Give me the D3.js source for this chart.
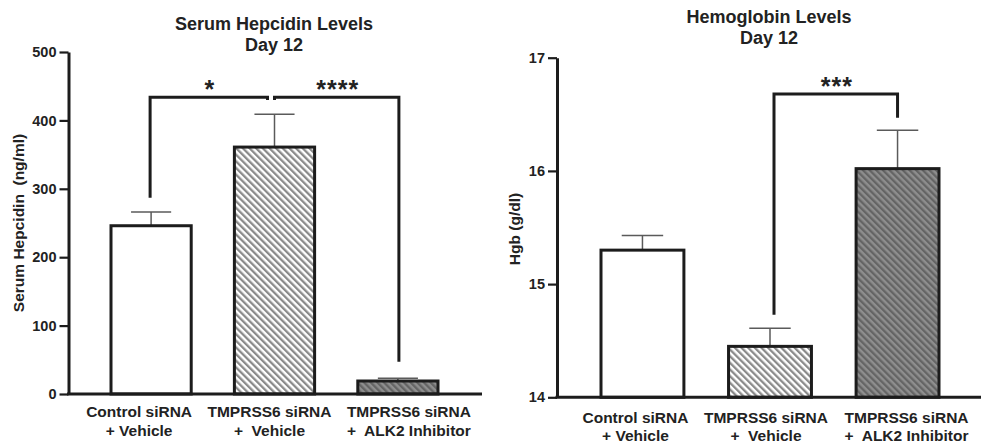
<!DOCTYPE html>
<html>
<head>
<meta charset="utf-8">
<script src="https://cdn.jsdelivr.net/npm/d3@7"></script>
<style>
  html, body { margin: 0; padding: 0; background: #fff; }
  svg { display: block; font-family: "Liberation Sans", Arial, Helvetica, sans-serif; font-weight: bold; }
</style>
</head>
<body>
<svg id="fig" width="981" height="443"></svg>
<script>
// Treatment groups (two-line labels)
const groupLine1 = ["Control siRNA", "TMPRSS6 siRNA", "TMPRSS6 siRNA"];
const groupLine2 = ["+ Vehicle", "+  Vehicle", "+  ALK2 Inhibitor"];

// Serum hepcidin (ng/ml): mean and SEM
const hepcidinMean = [246, 361, 19];
const hepcidinSem = [20, 48, 4];
const hepcidinTicks = [0, 100, 200, 300, 400, 500];

// Hemoglobin (g/dl): mean and SEM
const hgbMean = [15.30, 14.45, 16.02];
const hgbSem = [0.13, 0.16, 0.34];
const hgbTicks = [14, 15, 16, 17];

// Significance comparisons: [from group, to group, label, bracket height, left leg end, right leg end]
const hepcidinSig = [
  [0, 1, "*", 434, 287, 430],
  [1, 2, "****", 434, 430, 47]
];
const hgbSig = [
  [1, 2, "***", 16.68, 14.73, 16.47]
];

const svg = d3.select("#fig");
const ink = "#1c1c1c";

// Hatch fills
const defs = svg.append("defs");
function hatch(id, bg, fg) {
  const p = defs.append("pattern")
    .attr("id", id).attr("patternUnits", "userSpaceOnUse")
    .attr("width", 4.7).attr("height", 4.7)
    .attr("patternTransform", "rotate(-45)");
  p.append("rect").attr("width", 4.7).attr("height", 4.7).attr("fill", bg);
  p.append("rect").attr("width", 2.3).attr("height", 4.7).attr("fill", fg);
}
hatch("hatchLight", "#ffffff", "#8a8a8a");
hatch("hatchDark", "#8e8e8e", "#646464");
const fills = ["#ffffff", "url(#hatchLight)", "url(#hatchDark)"];

function panel(cfg) {
  const g = svg.append("g");
  const y = d3.scaleLinear().domain(cfg.domain).range([cfg.bottom, cfg.top]);
  const x = d3.scaleBand().domain(d3.range(3)).range(cfg.barRange).paddingInner(0.35);
  const cx = i => x(i) + x.bandwidth() / 2;

  // Title
  const t = g.append("text").attr("text-anchor", "middle").attr("font-size", 18).attr("fill", "#222");
  t.append("tspan").attr("x", cfg.titleX).attr("y", cfg.titleY).text(cfg.title[0]);
  t.append("tspan").attr("x", cfg.titleX).attr("y", cfg.titleY + 21).text(cfg.title[1]);

  // Y axis
  const ax = g.append("g").attr("transform", `translate(${cfg.axisX},0)`)
    .call(d3.axisLeft(y).tickValues(cfg.ticks).tickSize(9).tickSizeOuter(0).tickPadding(3).tickFormat(d3.format("d")));
  ax.select(".domain").attr("stroke", ink).attr("stroke-width", 3);
  ax.selectAll(".tick line").attr("stroke", ink).attr("stroke-width", 2.2);
  ax.selectAll(".tick text").attr("fill", "#222").attr("font-size", 14.5)
    .attr("font-family", "Liberation Sans, Arial, sans-serif").attr("font-weight", "bold");

  // Y axis title
  g.append("text")
    .attr("transform", `translate(${cfg.ylabX},${cfg.ylabY}) rotate(-90)`)
    .attr("text-anchor", "middle").attr("font-size", 15.5).attr("fill", "#222")
    .attr("xml:space", "preserve").style("white-space", "pre")
    .text(cfg.ylabel);

  // Error bars (upper)
  const eb = g.append("g").attr("stroke", "#5a5a5a").attr("stroke-width", 1.5);
  cfg.mean.forEach((m, i) => {
    eb.append("line").attr("x1", cx(i)).attr("x2", cx(i)).attr("y1", y(m)).attr("y2", y(m + cfg.sem[i]));
    eb.append("line").attr("x1", cx(i) - x.bandwidth() / 4).attr("x2", cx(i) + x.bandwidth() / 4)
      .attr("y1", y(m + cfg.sem[i])).attr("y2", y(m + cfg.sem[i]));
  });

  // Bars
  g.selectAll("rect.bar").data(cfg.mean).join("rect").attr("class", "bar")
    .attr("x", (d, i) => x(i)).attr("width", x.bandwidth())
    .attr("y", d => y(d)).attr("height", d => y(cfg.domain[0]) - y(d))
    .attr("fill", (d, i) => fills[i])
    .attr("stroke", ink).attr("stroke-width", 3);

  // X axis baseline
  g.append("line").attr("x1", cfg.axisX - 1.5).attr("x2", cfg.axisEnd)
    .attr("y1", y(cfg.domain[0])).attr("y2", y(cfg.domain[0]))
    .attr("stroke", ink).attr("stroke-width", 3);

  // Group labels
  groupLine1.forEach((s, i) => {
    const lx = cx(i) + cfg.labelShift[i];
    const tx = g.append("text").attr("text-anchor", "middle").attr("font-size", 15.5).attr("fill", "#222")
      .attr("xml:space", "preserve").style("white-space", "pre");
    tx.append("tspan").attr("x", lx).attr("y", cfg.labelY).text(s);
    tx.append("tspan").attr("x", lx).attr("y", cfg.labelY + 18.5).text(groupLine2[i]);
  });

  // Significance brackets
  cfg.sig.forEach(([a, b, lab, h, l1, l2], k) => {
    const xa = cx(a) + (cfg.legShift[k] ? cfg.legShift[k][0] : 0);
    const xb = cx(b) + (cfg.legShift[k] ? cfg.legShift[k][1] : 0);
    g.append("path")
      .attr("d", `M${xa},${y(l1)}V${y(h)}H${xb}V${y(l2)}`)
      .attr("fill", "none").attr("stroke", ink).attr("stroke-width", 3);
    g.append("text").attr("x", (xa + xb) / 2 + 1).attr("y", y(h) + 1)
      .attr("text-anchor", "middle").attr("font-size", 25).attr("fill", "#222")
      .attr("letter-spacing", 1)
      .text(lab);
  });
}

panel({
  title: ["Serum Hepcidin Levels", "Day 12"], titleX: 274, titleY: 30,
  domain: [0, 500], ticks: hepcidinTicks, top: 52, bottom: 394,
  axisX: 68.5, axisEnd: 482, barRange: [111, 438],
  ylabel: "Serum Hepcidin  (ng/ml)", ylabX: 24, ylabY: 223,
  mean: hepcidinMean, sem: hepcidinSem,
  labelShift: [-12, -5, 11], labelY: 417,
  sig: hepcidinSig, legShift: [[-1, -7], [0, 1]]
});

panel({
  title: ["Hemoglobin Levels", "Day 12"], titleX: 769, titleY: 23,
  domain: [14, 17], ticks: hgbTicks, top: 57.7, bottom: 397.3,
  axisX: 557, axisEnd: 981, barRange: [601, 939],
  ylabel: "Hgb (g/dl)", ylabX: 520, ylabY: 229,
  mean: hgbMean, sem: hgbSem,
  labelShift: [-7, -4, 9], labelY: 422.5,
  sig: hgbSig, legShift: [[4, 0]]
});
</script>
</body>
</html>
